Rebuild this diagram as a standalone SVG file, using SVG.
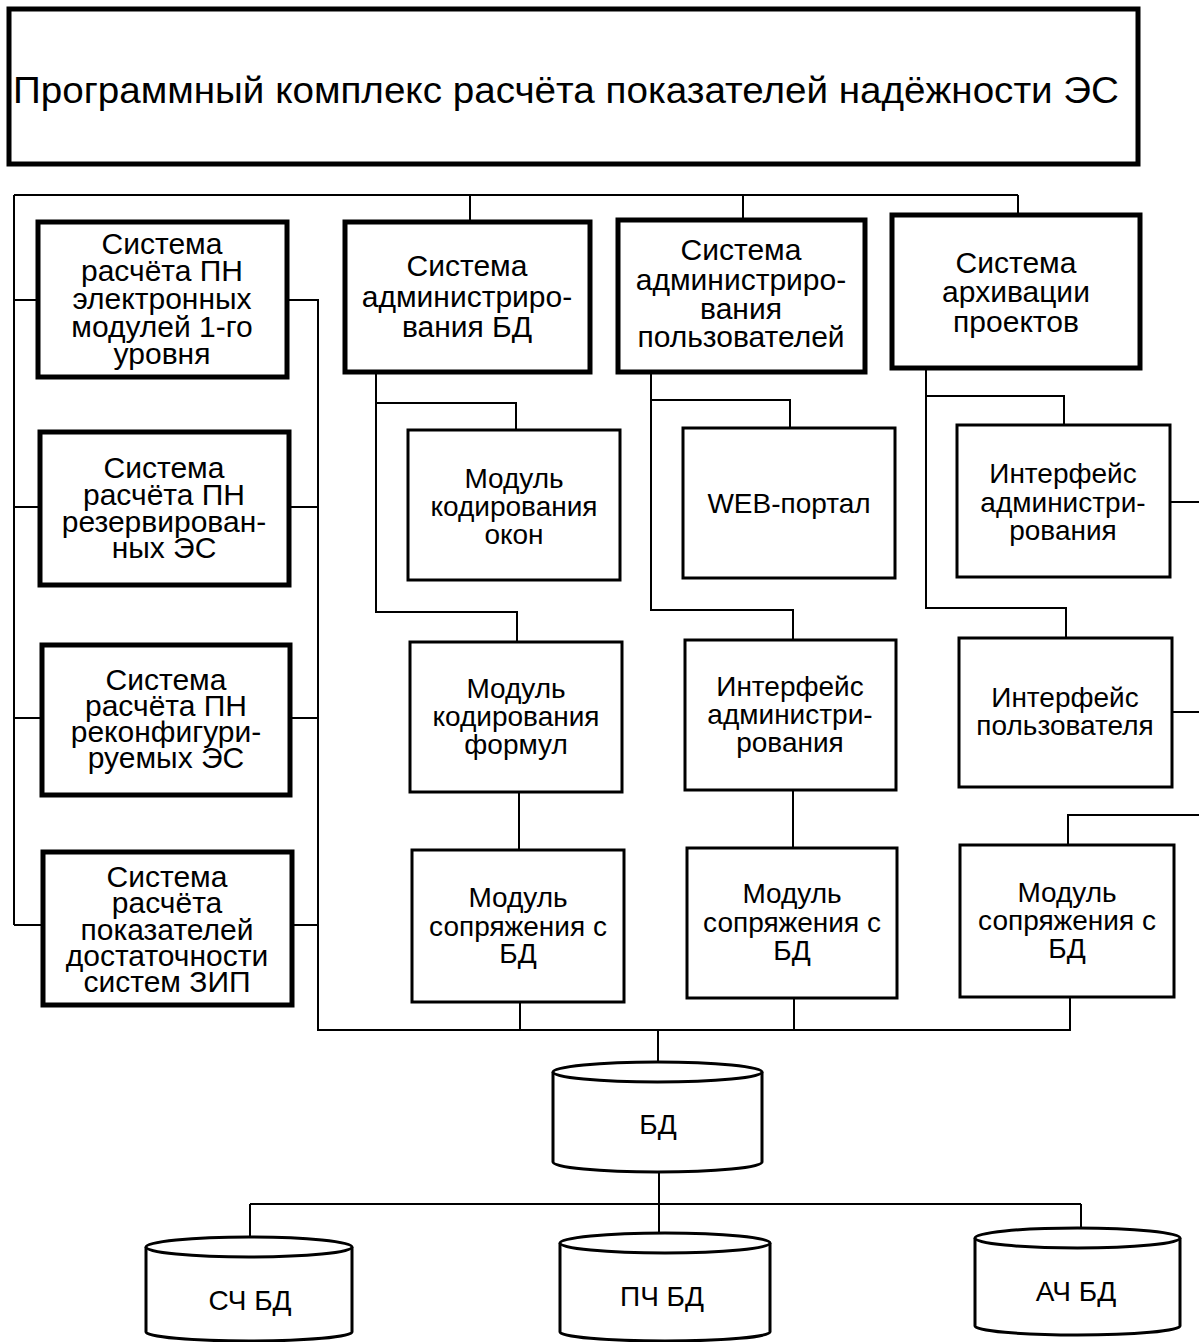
<svg xmlns="http://www.w3.org/2000/svg" width="1199" height="1342" viewBox="0 0 1199 1342">
<style>
.bg{fill:#fff}
.thick{fill:#fff;stroke:#000;stroke-width:5}
.box{fill:#fff;stroke:#000;stroke-width:3}
.cyl{fill:#fff;stroke:#000;stroke-width:3}
.ln{fill:none;stroke:#000;stroke-width:2}
text{font-family:"Liberation Sans",Arial,sans-serif;fill:#000;text-anchor:middle}
.t30{font-size:30px}
.t28{font-size:28px}
.tc{font-size:28px}
</style>
<rect class="bg" x="0" y="0" width="1199" height="1342"/>
<g id="connectors">
<path class="ln" d="M14,195 H1018 M470,195 V222 M743,195 V220 M1018,195 V215"/>
<path class="ln" d="M14,195 V925 M14,300 H38 M14,507 H40 M14,718 H42 M14,925 H43"/>
<path class="ln" d="M287,300 H318 V1030 H1070 V997 M289,507 H318 M290,718 H318 M292,925 H318"/>
<path class="ln" d="M376,372 V612 H517 V642 M376,403 H516 V430 M519,792 V850 M520,1002 V1030"/>
<path class="ln" d="M651,372 V610 H793 V640 M651,400 H790 V428 M793,790 V848 M794,998 V1030"/>
<path class="ln" d="M926,368 V608 H1066 V638 M926,396 H1064 V425 M1170,502 H1199 M1172,712 H1199 M1068,845 V815 H1199"/>
<path class="ln" d="M658,1030 V1062 M659,1172 V1204 M250,1204 H1081 M250,1204 V1237 M659,1204 V1233 M1081,1204 V1228"/>
</g>
<g id="title">
<rect class="thick" x="9" y="9" width="1129" height="155"/>
<text x="566" y="103" font-size="36" textLength="1106" lengthAdjust="spacingAndGlyphs">Программный комплекс расчёта показателей надёжности ЭС</text>
</g>
<g id="calc-modules">
<rect class="thick" x="38" y="222" width="249" height="155"/>
<text class="t30" x="162"><tspan x="162" y="254">Система</tspan><tspan x="162" y="281">расчёта ПН</tspan><tspan x="162" y="309">электронных</tspan><tspan x="162" y="337">модулей 1-го</tspan><tspan x="162" y="364">уровня</tspan></text>
</g>
<g id="calc-reserved">
<rect class="thick" x="40" y="432" width="249" height="153"/>
<text class="t30"><tspan x="164" y="478">Система</tspan><tspan x="164" y="505">расчёта ПН</tspan><tspan x="164" y="532">резервирован-</tspan><tspan x="164" y="558">ных ЭС</tspan></text>
</g>
<g id="calc-reconf">
<rect class="thick" x="42" y="645" width="248" height="150"/>
<text class="t30"><tspan x="166" y="690">Система</tspan><tspan x="166" y="716">расчёта ПН</tspan><tspan x="166" y="742">реконфигури-</tspan><tspan x="166" y="768">руемых ЭС</tspan></text>
</g>
<g id="calc-zip">
<rect class="thick" x="43" y="852" width="249" height="153"/>
<text class="t30"><tspan x="167" y="887">Система</tspan><tspan x="167" y="913">расчёта</tspan><tspan x="167" y="940">показателей</tspan><tspan x="167" y="966">достаточности</tspan><tspan x="167" y="992">систем ЗИП</tspan></text>
</g>
<g id="admin-db">
<rect class="thick" x="345" y="222" width="245" height="150"/>
<text class="t30"><tspan x="467" y="276">Система</tspan><tspan x="467" y="307">администриро-</tspan><tspan x="467" y="337">вания БД</tspan></text>
</g>
<g id="admin-users">
<rect class="thick" x="618" y="220" width="247" height="152"/>
<text class="t30"><tspan x="741" y="260">Система</tspan><tspan x="741" y="290">администриро-</tspan><tspan x="741" y="319">вания</tspan><tspan x="741" y="347">пользователей</tspan></text>
</g>
<g id="archive">
<rect class="thick" x="892" y="215" width="248" height="153"/>
<text class="t30"><tspan x="1016" y="273">Система</tspan><tspan x="1016" y="302">архивации</tspan><tspan x="1016" y="332">проектов</tspan></text>
</g>
<g id="win-coding">
<rect class="box" x="408" y="430" width="212" height="150"/>
<text class="t28"><tspan x="514" y="488">Модуль</tspan><tspan x="514" y="516">кодирования</tspan><tspan x="514" y="544">окон</tspan></text>
</g>
<g id="formula-coding">
<rect class="box" x="410" y="642" width="212" height="150"/>
<text class="t28"><tspan x="516" y="698">Модуль</tspan><tspan x="516" y="726">кодирования</tspan><tspan x="516" y="754">формул</tspan></text>
</g>
<g id="db-iface-1">
<rect class="box" x="412" y="850" width="212" height="152"/>
<text class="t28"><tspan x="518" y="907">Модуль</tspan><tspan x="518" y="936">сопряжения с</tspan><tspan x="518" y="963">БД</tspan></text>
</g>
<g id="web-portal">
<rect class="box" x="683" y="428" width="212" height="150"/>
<text class="t28" x="789" y="513">WEB-портал</text>
</g>
<g id="admin-iface-1">
<rect class="box" x="685" y="640" width="211" height="150"/>
<text class="t28"><tspan x="790" y="696">Интерфейс</tspan><tspan x="790" y="724">администри-</tspan><tspan x="790" y="752">рования</tspan></text>
</g>
<g id="db-iface-2">
<rect class="box" x="687" y="848" width="210" height="150"/>
<text class="t28"><tspan x="792" y="903">Модуль</tspan><tspan x="792" y="932">сопряжения с</tspan><tspan x="792" y="960">БД</tspan></text>
</g>
<g id="admin-iface-2">
<rect class="box" x="957" y="425" width="213" height="152"/>
<text class="t28"><tspan x="1063" y="483">Интерфейс</tspan><tspan x="1063" y="512">администри-</tspan><tspan x="1063" y="540">рования</tspan></text>
</g>
<g id="user-iface">
<rect class="box" x="959" y="638" width="213" height="149"/>
<text class="t28"><tspan x="1065" y="707">Интерфейс</tspan><tspan x="1065" y="735">пользователя</tspan></text>
</g>
<g id="db-iface-3">
<rect class="box" x="960" y="845" width="214" height="152"/>
<text class="t28"><tspan x="1067" y="902">Модуль</tspan><tspan x="1067" y="930">сопряжения с</tspan><tspan x="1067" y="958">БД</tspan></text>
</g>
<g id="db">
<path class="cyl" d="M553,1072 V1162 A104.5,10 0 0 0 762,1162 V1072"/>
<ellipse class="cyl" cx="657.5" cy="1072" rx="104.5" ry="10"/>
<text class="tc" x="658" y="1134">БД</text>
</g>
<g id="sch-db">
<path class="cyl" d="M146,1247 V1332 A103,9 0 0 0 352,1332 V1247"/>
<ellipse class="cyl" cx="249" cy="1247" rx="103" ry="10"/>
<text class="tc" x="250" y="1310">СЧ БД</text>
</g>
<g id="pch-db">
<path class="cyl" d="M560,1243 V1332 A105,9 0 0 0 770,1332 V1243"/>
<ellipse class="cyl" cx="665" cy="1243" rx="105" ry="10"/>
<text class="tc" x="662" y="1306">ПЧ БД</text>
</g>
<g id="ach-db">
<path class="cyl" d="M975,1238 V1326 A102.5,9 0 0 0 1180,1326 V1238"/>
<ellipse class="cyl" cx="1077.5" cy="1238" rx="102.5" ry="10"/>
<text class="tc" x="1076" y="1301">АЧ БД</text>
</g>
</svg>
